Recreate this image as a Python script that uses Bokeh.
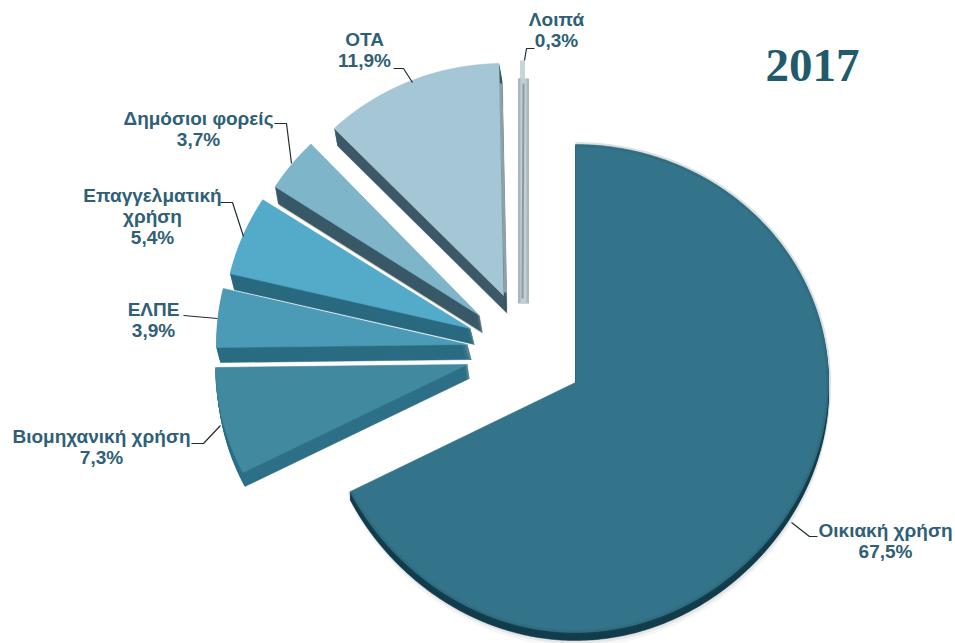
import math
from bokeh.plotting import figure
from bokeh.models import Range1d, ColumnDataSource
from bokeh.core.properties import value
from bokeh.embed import file_html
from bokeh.resources import INLINE

# data
categories = ["Οικιακή χρήση", "Βιομηχανική χρήση", "ΕΛΠΕ", "Επαγγελματική\nχρήση",
              "Δημόσιοι φορείς", "ΟΤΑ", "Λοιπά"]
shares = [67.5, 7.3, 3.9, 5.4, 3.7, 11.9, 0.3]
year = "2017"

# style
face = ["#34748a", "#41899f", "#4b9bb6", "#53abc9", "#7eb5c9", "#a4c6d5", "#a9b6bc"]
side = ["#123d4c", "#2f7088", "#2b6d83", "#2b6a80", "#3a5a68", "#3e5a68", "#7d8c92"]
explode_dx = [0, -108, -108, -105, -96, -72, -52]
explode_dy = [0, -18, -38, -54, -67, -87, -79]
radius_x = [253, 252, 251, 247, 243, 244, 244]
radius_up = [238, 238, 243, 238, 238, 232, 225]
radius_down = [250, 238, 238, 238, 238, 238, 238]
depth_x = [0, 2, 4, 4, 3, 3, 0]
depth_y = [8, 14, 15, 16, 17, 17, 0]
CX, CY = 575, 382
W, H = 955, 643
FONT = "Liberation Sans"
INK = "#2f6076"

p = figure(width=W, height=H, x_range=Range1d(0, W), y_range=Range1d(H, 0),
           output_backend="svg", toolbar_location=None, min_border=0,
           margin=(0, -8, -8, 0))
p.axis.visible = False
p.grid.visible = False
p.outline_line_color = None
p.background_fill_color = "white"
p.border_fill_color = "white"


def wedge(start, end, i):
    cx, cy = CX + explode_dx[i], CY + explode_dy[i]
    xs, ys = [cx], [cy]
    n = max(4, int((end - start) * 1.5))
    for k in range(n + 1):
        a = math.radians(start + (end - start) * k / n)
        s, c = math.sin(a), math.cos(a)
        ry = radius_up[i] if c > 0 else radius_up[i] + (radius_down[i] - radius_up[i]) * c * c
        xs.append(cx + radius_x[i] * s)
        ys.append(cy - ry * c)
    return xs, ys


total = sum(shares)
angle = 0.0
shapes = []
for i, v in enumerate(shares):
    sweep = 360.0 * v / total
    shapes.append(wedge(angle, angle + sweep, i))
    angle += sweep

# soft shadow beneath the big slice
xs, ys = shapes[0]
for d, alpha in ((11, 0.10), (14, 0.06)):
    p.patch([x + 1 for x in xs], [y + d for y in ys], fill_color="#666666", fill_alpha=alpha, line_color=None)

# draw from top-of-stack (thin slice) to the lower ones
for i in [0, 6, 5, 4, 3, 2, 1]:
    xs, ys = shapes[i]
    steps = max(abs(depth_y[i]), 1)
    if i in (4, 5):
        p.patch([x + depth_x[i] + 1 for x in xs], [y + depth_y[i] + 2 for y in ys],
                fill_color="#555555", fill_alpha=0.25, line_color=None)
    if depth_y[i]:
        for d in range(steps, 0, -1):
            f = d / steps
            p.patch([x + depth_x[i] * f for x in xs], [y + depth_y[i] * f for y in ys],
                    fill_color=side[i], line_color=side[i], line_width=0.5)
    if i == 5:
        p.line([xs[-1] + 2, xs[0] + 2], [ys[-1] + 20, ys[0] - 3], line_color="#8fa0a8", line_width=3)
    p.patch(xs, ys, fill_color=face[i], line_color=face[i], line_width=1, line_alpha=0.6)

# darker rim on the big slice
xs, ys = shapes[0]
p.line(xs[1:], ys[1:], line_color="#1c4a5a", line_width=5, line_alpha=0.16)

# thin slice: pale body, darker core and faint tip
xs, ys = shapes[6]
p.line([xs[0], xs[0]], [ys[0], ys[0] - 225], line_color="#aab7bd", line_width=11)
p.line([xs[0], xs[0]], [ys[0], ys[0] - 225], line_color="#c3cfd3", line_width=6)
p.line([xs[0] - 1, xs[0]], [ys[0] - 5, ys[0] - 220], line_color="#8b9ba3", line_width=2)
p.line([xs[0] - 1, xs[0] - 1], [ys[0] - 225, ys[0] - 243], line_color="#c7d6da", line_width=5)

# leader lines
leaders = [
    ([791, 809, 817], [522, 536, 536]),
    ([220, 203, 191], [425, 443, 443]),
    ([183, 217], [315, 318]),
    ([220, 232, 243], [202, 202, 236]),
    ([274, 286, 291], [123, 123, 163]),
    ([393, 403, 412], [68, 68, 82]),
    ([534, 526, 524], [48, 48, 60]),
]
for lx, ly in leaders:
    p.line(lx, ly, line_color="#1f2d33", line_width=1.2)

# labels
label_x = [885, 101, 153, 152, 198, 364, 556]
label_y = [530, 436, 309, 195, 118, 39, 19]
line_gap = 21
tx, ty, tt = [], [], []
for i, name in enumerate(categories):
    lines = name.split("\n") + [f"{shares[i]:.1f}%".replace(".", ",")]
    for j, t in enumerate(lines):
        tx.append(label_x[i])
        ty.append(label_y[i] + j * line_gap)
        tt.append(t)
p.text(x="x", y="y", text="t", source=ColumnDataSource(dict(x=tx, y=ty, t=tt)),
       text_font=value(FONT), text_font_style="bold", text_font_size="19px",
       text_color=INK, text_align="center", text_baseline="middle")

p.text(x=[812], y=[65], text=[year], text_font=value("Liberation Serif"), text_font_style="bold",
       text_font_size="47px", text_color="#215b6b", text_align="center", text_baseline="middle")

open("out.html", "w").write(file_html(p, INLINE))
